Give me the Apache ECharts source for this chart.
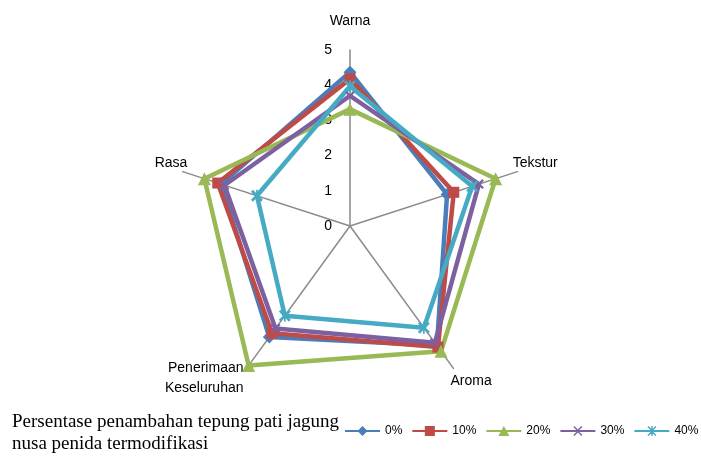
<!DOCTYPE html>
<html>
<head>
<meta charset="utf-8">
<script src="https://cdn.jsdelivr.net/npm/echarts@6/dist/echarts.min.js"></script>
<style>
  html, body { margin: 0; padding: 0; background: #fff; }
  #chart { width: 701px; height: 456px; }
</style>
</head>
<body>
<div id="chart"></div>
<script>
// Sensory criteria, listed counter-clockwise from the top axis
const categories = ['Warna', 'Rasa', 'Penerimaan\nKeseluruhan', 'Aroma', 'Tekstur'];
const axisMax = 5;

// Mean panel scores per formulation (same order as categories)
const series0 = [4.37, 3.85, 3.90, 4.20, 2.90];
const series10 = [4.18, 3.95, 3.77, 4.25, 3.10];
const series20 = [3.32, 4.35, 4.90, 4.40, 4.35];
const series30 = [3.70, 3.75, 3.60, 4.10, 3.85];
const series40 = [3.97, 2.78, 3.15, 3.57, 3.65];

const seriesNames = ['0%', '10%', '20%', '30%', '40%'];
const legendTitle = 'Persentase penambahan tepung pati jagung\nnusa penida termodifikasi';

// Marker shapes
const xMark = 'path://M0 1.6L1.6 0L5 3.4L8.4 0L10 1.6L6.6 5L10 8.4L8.4 10L5 6.6L1.6 10L0 8.4L3.4 5Z';
const starMark = 'path://M0 1.6L1.6 0L5 3.4L8.4 0L10 1.6L6.6 5L10 8.4L8.4 10L5 6.6L1.6 10L0 8.4L3.4 5Z M4.3 0H5.7V10H4.3Z';

// Legend icons: a short line with the marker in the middle
const bar = 'M0 4H35V6H0Z ';
const legendIcons = [
  'path://' + bar + 'M17.5 0L22.5 5L17.5 10L12.5 5Z',
  'path://' + bar + 'M12.5 0H22.5V10H12.5Z',
  'path://' + bar + 'M17.5 0L23 10H12Z',
  'path://' + bar + 'M13 1L14 0L17.5 3.5L21 0L22 1L18.5 4.5V5.5L22 9L21 10L17.5 6.5L14 10L13 9L16.5 5.5V4.5Z',
  'path://' + bar + 'M13 1L14 0L17.5 3.5L21 0L22 1L18.5 4.5V5.5L22 9L21 10L17.5 6.5L14 10L13 9L16.5 5.5V4.5Z M16.8 0H18.2V10H16.8Z'
];

const colors = ['#4A7EBB', '#BE4B48', '#98B954', '#7D60A0', '#46AAC5'];
const symbols = ['diamond', 'rect', 'triangle', xMark, starMark];
const symbolSizes = [13, 11, 13, 10, 12];
const values = [series0, series10, series20, series30, series40];

// Per-axis name offsets (rich-text padding: top, right, bottom, left)
const namePads = {
  'Warna': [0, 0, 15, 0],
  'Rasa': [0, 0, 20, 0],
  'Penerimaan\nKeseluruhan': [28, 6, 0, 0],
  'Aroma': [34, 0, 0, 0],
  'Tekstur': [0, 0, 20, 0]
};

const indicator = categories.map((name, i) => {
  const ind = { name: name, max: axisMax, min: 0 };
  if (i === 0) {
    // scale labels 0..5 beside the top axis only
    ind.axisLabel = {
      show: true, color: '#000', fontSize: 14,
      fontFamily: 'Liberation Sans', margin: 18
    };
  }
  return ind;
});

const rich = {};
categories.forEach((name, i) => {
  rich['n' + i] = {
    padding: namePads[name],
    fontFamily: 'Liberation Sans',
    fontSize: 14,
    lineHeight: 20,
    color: '#000'
  };
});

const chart = echarts.init(document.getElementById('chart'), null, { renderer: 'canvas' });
chart.setOption({
  animation: false,
  backgroundColor: '#fff',
  title: {
    text: legendTitle,
    left: 7,
    top: 406,
    textStyle: {
      fontFamily: 'Liberation Serif',
      fontSize: 19,
      fontWeight: 'normal',
      color: '#000',
      lineHeight: 22
    }
  },
  legend: {
    left: 345,
    top: 425,
    width: 360,
    padding: 0,
    itemWidth: 35,
    itemHeight: 10,
    itemGap: 10,
    textStyle: { fontFamily: 'Liberation Sans', fontSize: 12, color: '#000' },
    data: seriesNames.map((n, i) => ({ name: n, icon: legendIcons[i], itemStyle: { color: colors[i] } }))
  },
  radar: {
    center: [350, 226],
    radius: 176,
    startAngle: 90,
    shape: 'polygon',
    splitNumber: 5,
    indicator: indicator,
    nameGap: -5,
    axisName: {
      color: '#000',
      fontFamily: 'Liberation Sans',
      fontSize: 14,
      formatter: function (name) {
        const i = categories.indexOf(name);
        return name.split('\n').map(line => '{n' + i + '|' + line + '}').join('\n');
      },
      rich: rich
    },
    axisLine: { lineStyle: { color: '#8a8a8a', width: 1.5 } },
    axisTick: { show: false },
    axisLabel: { show: false },
    splitLine: { show: false },
    splitArea: { show: false }
  },
  series: [{
    type: 'radar',
    data: values.map((v, i) => ({
      name: seriesNames[i],
      value: v,
      symbol: symbols[i],
      symbolSize: symbolSizes[i],
      itemStyle: { color: colors[i] },
      lineStyle: { color: colors[i], width: 4.5 }
    }))
  }]
});
</script>
</body>
</html>
